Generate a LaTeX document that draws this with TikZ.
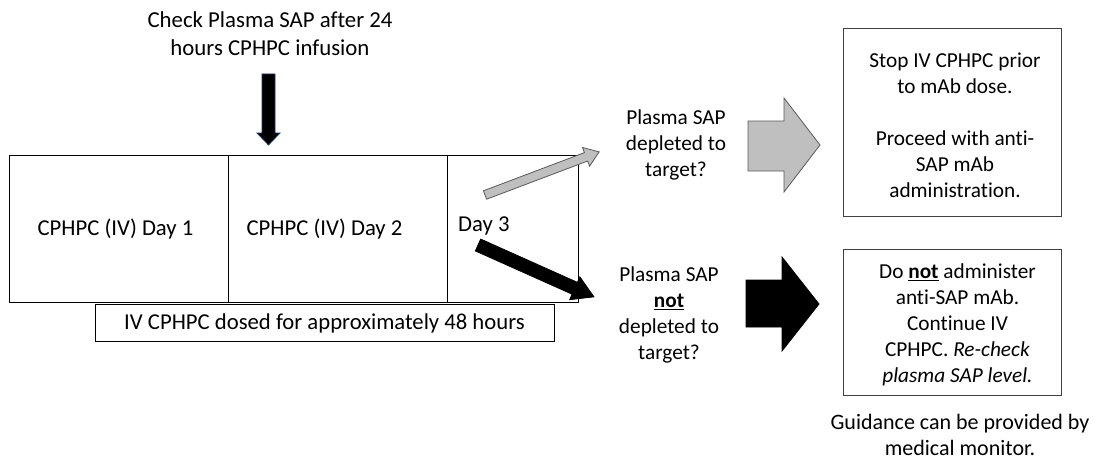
\documentclass[tikz,border=0pt]{standalone}
\usepackage{fontspec}
\setmainfont{Carlito}[Ligatures=NoCommon]
\definecolor{arrowgray}{HTML}{BFBFBF}
\definecolor{arrowedge}{HTML}{595959}
\definecolor{navyedge}{HTML}{203864}
\begin{document}
\begin{tikzpicture}[x=1pt,y=1pt,
  txt/.style={font=\fontsize{21.3}{26}\selectfont, align=center, inner sep=0pt},
  cell/.style={draw=black, line width=0.9pt, anchor=north west, inner sep=0pt},
  outbox/.style={draw=black!75, line width=0.9pt, anchor=north west, inner sep=0pt},
  grayarrow/.style={fill=arrowgray, draw=arrowedge, line width=0.8pt, line join=miter},
  blackarrow/.style={fill=black, draw=black, line width=0.8pt, line join=miter}]
\useasboundingbox (0,0) rectangle (1100,-460);

% title and down arrow
\node[txt, font=\fontsize{22.8}{28}\selectfont] (title) at (270,-34) {Check Plasma SAP after 24\\hours CPHPC infusion};
\draw[fill=black, draw=navyedge, line width=0.8pt]
  (262,-74) -- (275,-74) -- (275,-133) -- (280,-133) -- (268.5,-145) -- (257,-133) -- (262,-133) -- cycle;

% timeline cells
\node[cell, minimum width=219, minimum height=147] (c1) at (9,-155) {};
\node[cell, minimum width=219, minimum height=147] (c2) at (228,-155) {};
\node[cell, minimum width=131, minimum height=147] (c3) at (447,-155) {};
\node[txt, font=\fontsize{22.7}{27}\selectfont] (t1) at (115.5,-229) {CPHPC (IV) Day 1};
\node[txt, font=\fontsize{22.7}{27}\selectfont] (t2) at (324.5,-229) {CPHPC (IV) Day 2};
\node[txt, font=\fontsize{22.7}{27}\selectfont, anchor=west] (t3) at (458,-226) {Day 3};
\node[cell, minimum width=459, minimum height=37] (dose) at (95,-304) {};
\node[txt, font=\fontsize{22.7}{27}\selectfont] (dosetxt) at (324.5,-323) {IV CPHPC dosed for approximately 48 hours};

% slanted arrows
\begin{scope}[shift={(485,-195)}, rotate=20.7]
  \draw[grayarrow] (0,-4.5) -- (108,-4.5) -- (108,-10) -- (122,0) -- (108,10) -- (108,4.5) -- (0,4.5) -- cycle;
\end{scope}
\begin{scope}[shift={(478,-245)}, rotate=-24.1]
  \draw[blackarrow] (0,-6.5) -- (106,-6.5) -- (106,-12.5) -- (127,0) -- (106,12.5) -- (106,6.5) -- (0,6.5) -- cycle;
\end{scope}

% questions
\node[txt] (q1) at (676,-145) {Plasma SAP\\depleted to\\target?};
\node[txt] (q2) at (669,-315) {Plasma SAP\\\textbf{\underline{not}}\\depleted to\\target?};

% block arrows
\draw[grayarrow] (748,-121) -- (784,-121) -- (784,-98) -- (820,-145) -- (784,-192) -- (784,-171) -- (748,-171) -- cycle;
\draw[blackarrow] (746,-280) -- (782,-280) -- (782,-257) -- (819,-304) -- (782,-351) -- (782,-327) -- (746,-327) -- cycle;

% outcome boxes
\node[outbox, minimum width=218, minimum height=188] (b1) at (843,-28) {};
\node[txt] (b1txt) at (955,-125) {Stop IV CPHPC prior\\to mAb dose.\\[26pt]Proceed with anti-\\SAP mAb\\administration.};
\node[outbox, minimum width=218, minimum height=146] (b2) at (843,-249) {};
\node[txt] (b2txt) at (957.5,-325) {Do \textbf{\underline{not}} administer\\anti-SAP mAb.\\Continue IV\\CPHPC. \textit{Re-check}\\\textit{plasma SAP level.}};

\node[txt, font=\fontsize{22}{26}\selectfont] (guide) at (960,-435) {Guidance can be provided by\\medical monitor.};
\end{tikzpicture}
\end{document}
